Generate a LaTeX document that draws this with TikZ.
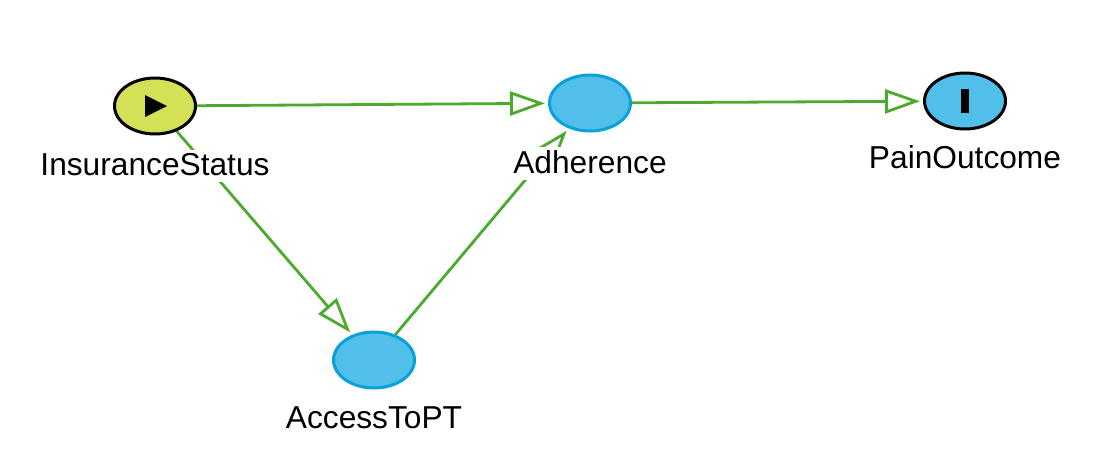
\documentclass[tikz,border=0pt]{standalone}
\usepackage{fontspec}
\setmainfont{Liberation Sans}
\usetikzlibrary{arrows.meta,shapes.geometric,backgrounds,positioning}
\definecolor{edgegreen}{RGB}{78,170,44}
\definecolor{expfill}{RGB}{212,225,87}
\definecolor{varfill}{RGB}{80,192,234}
\definecolor{varline}{RGB}{10,160,220}

\tikzset{
  var/.style={ellipse, inner sep=0pt, minimum width=81pt, minimum height=56pt,
    line width=3pt, draw=varline, fill=varfill},
  expvar/.style={var, draw=black, fill=expfill},
  outvar/.style={var, draw=black},
  lbl/.style={fill=white, inner sep=3pt, text depth=4pt, anchor=base,
    font=\fontsize{31.7}{38}\selectfont},
  edge/.style={draw=edgegreen, line width=2.8pt, shorten >=3pt,
    -{Triangle[open, length=35pt, width=24pt]}}
}

\begin{document}
\begin{tikzpicture}[x=1pt,y=-1pt]
  \useasboundingbox (0,0) rectangle (1095,474);

  \node[expvar] (ins) at (155,106) {};
  \node[var] (adh) at (590,103) {};
  \node[outvar] (pain) at (965,101) {};
  \node[var] (acc) at (374,360) {};

  % exposure and outcome marks
  \fill ([shift={(-10pt,11pt)}]ins.center) -- ++(0pt,-22pt) -- ++(22pt,11pt) -- cycle;
  \fill ([shift={(-4pt,-12pt)}]pain.center) rectangle ++(8pt,24pt);

  \node[lbl] (insl) at ([yshift=-69pt]ins.center) {InsuranceStatus};
  \node[lbl] (adhl) at ([yshift=-70pt]adh.center) {Adherence};
  \node[lbl] (painl) at ([yshift=-67pt]pain.center) {PainOutcome};
  \node[lbl] (accl) at ([yshift=-68pt]acc.center) {AccessToPT};

  \begin{scope}[on background layer]
    \fill[white] (0,0) rectangle (1095,474);
    \draw[edge] (ins) -- (adh);
    \draw[edge] (ins) -- (acc);
    \draw[edge] (acc) -- (adh);
    \draw[edge] (adh) -- (pain);
  \end{scope}
\end{tikzpicture}
\end{document}
